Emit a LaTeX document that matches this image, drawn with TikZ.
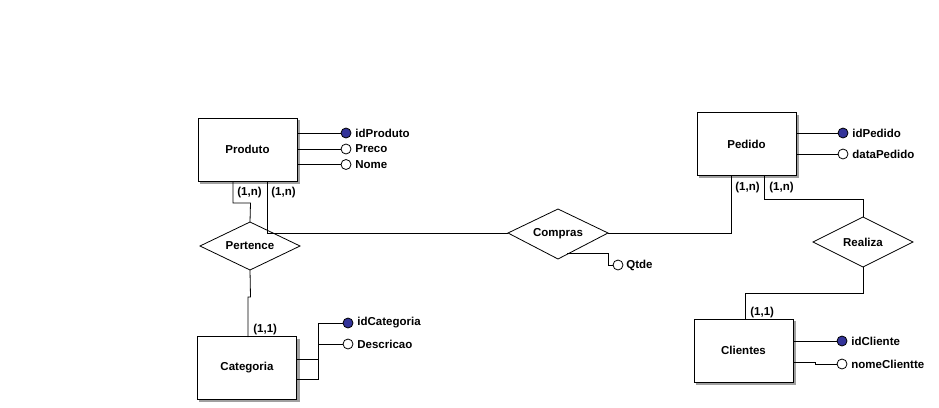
\documentclass[tikz,border=0pt]{standalone}
\usepackage{fontspec}
\setmainfont{Liberation Sans}
\begin{document}
\begin{tikzpicture}[x=1pt,y=-1pt,
  line width=0.8pt,
  txt/.style={font=\fontsize{11.5}{12}\selectfont\bfseries, inner sep=0pt},
  ent/.style={draw=black, fill=white, line width=1pt, minimum width=99pt, minimum height=63pt, inner sep=0pt, font=\fontsize{11.5}{12}\selectfont\bfseries},
  rel/.style={draw=black, fill=white, line width=0.8pt},
  pk/.style={circle, draw=black, fill=keyblue, minimum size=10pt, inner sep=0pt, line width=0.8pt},
  att/.style={circle, draw=black, fill=white, minimum size=10pt, inner sep=0pt, line width=0.8pt},
  card/.style={font=\fontsize{11.5}{12}\selectfont\bfseries, inner sep=0pt, anchor=west}
]
\definecolor{keyblue}{RGB}{51,51,153}
\definecolor{shadowgray}{RGB}{160,160,160}
\useasboundingbox (0,0) rectangle (939,407);
\fill[white] (0,0) rectangle (939,407);

% shadows of entities
\fill[shadowgray] (200,120) rectangle (299.5,183.5);
\fill[shadowgray] (199,339) rectangle (299.5,401.5);
\fill[shadowgray] (699,115) rectangle (798.5,177.5);
\fill[shadowgray] (696,321) rectangle (795.5,384.5);

% entities
\node[ent] (produto) at (247.5,149.5) {Produto};
\node[ent] (categoria) at (247,368) {Categoria};
\node[ent] (pedido) at (746.5,144) {Pedido};
\node[ent] (clientes) at (743.5,350.5) {Clientes};

% relationship diamonds
\path[rel] (250,222) coordinate (pt) -- (300,246) coordinate (pr) -- (250,270) coordinate (pb) -- (200,246) coordinate (pl) -- cycle;
\node[txt] (pertence) at (250,246) {Pertence};
\path[rel] (558,209) coordinate (ct) -- (608,233) coordinate (cr) -- (558,259) coordinate (cb) -- (508,233) coordinate (cl) -- cycle;
\node[txt] (compras) at (558,234) {Compras};
\path[rel] (863,217) coordinate (rt) -- (913,242) coordinate (rr) -- (863,267) coordinate (rb) -- (813,242) coordinate (rl) -- cycle;
\node[txt] (realiza) at (863,242) {Realiza};

% connectors Produto - Pertence
\coordinate (p1) at (233,181);
\coordinate (p2) at (267,181);
\draw (p1) -- (233,203) -- (250.5,203) -- (pt);
\draw (p2) -- (267,233) -- (cl);
% Pertence - Categoria
\coordinate (c1) at (248,337);
\draw (pb) -- (250.5,297) -- (248,297) -- (c1);
% Compras - Pedido
\coordinate (pd1) at (731,175);
\draw (cr) -- (731,233) -- (pd1);
% Pedido - Realiza
\coordinate (pd2) at (764,175);
\draw (pd2) -- (764,199) -- (863,199) -- (rt);
% Realiza - Clientes
\coordinate (cl1) at (745,319);
\draw (rb) -- (863,293) -- (745,293) -- (cl1);

% cardinalities
\node[card] (k1) at (237,193) {(1,n)};
\node[card] (k2) at (271,193) {(1,n)};
\node[card] (k3) at (253,330) {(1,1)};
\node[card] (k4) at (735,188) {(1,n)};
\node[card] (k5) at (769,188) {(1,n)};
\node[card] (k6) at (750,313) {(1,1)};

% Produto attributes
\node[pk] (idproduto) at (346,133) {};
\node[att] (preco) at (346,149) {};
\node[att] (nome) at (346,164.5) {};
\draw (297,133) -- (idproduto);
\draw (297,149) -- (preco);
\draw (297,164.5) -- (nome);
\node[txt, anchor=west] (tidproduto) at (355,133) {idProduto};
\node[txt, anchor=west] (tpreco) at (355,149) {Preco};
\node[txt, anchor=west] (tnome) at (355,164.5) {Nome};

% Categoria attributes
\node[pk] (idcategoria) at (348,323) {};
\node[att] (descricao) at (348,344) {};
\draw (297,359) -- (318,359);
\draw (297,379) -- (318,379) -- (318,323) -- (idcategoria);
\draw (318,344) -- (descricao);
\node[txt, anchor=west] (tidcategoria) at (357,323) {idCategoria};
\node[txt, anchor=west] (tdescricao) at (357,344) {Descricao};

% Compras attribute
\node[att] (qtde) at (618,265) {};
\coordinate (cq) at (567,253.5);
\draw (cq) -- (608,253.5) -- (608,265) -- (qtde);
\node[txt, anchor=west] (tqtde) at (626,265.5) {Qtde};

% Pedido attributes
\node[pk] (idpedido) at (843,133) {};
\node[att] (datapedido) at (843,154) {};
\draw (796,133) -- (idpedido);
\draw (796,154) -- (datapedido);
\node[txt, anchor=west] (tidpedido) at (852,133) {idPedido};
\node[txt, anchor=west] (tdatapedido) at (852,154) {dataPedido};

% Clientes attributes
\node[pk] (idcliente) at (842,341) {};
\node[att] (nomecliente) at (842,364) {};
\draw (793,341) -- (idcliente);
\draw (793,362.5) -- (815,362.5) -- (815,364) -- (nomecliente);
\node[txt, anchor=west] (tidcliente) at (851,341) {idCliente};
\node[txt, anchor=west] (tnomecliente) at (851,364) {nomeClientte};
\end{tikzpicture}
\end{document}
